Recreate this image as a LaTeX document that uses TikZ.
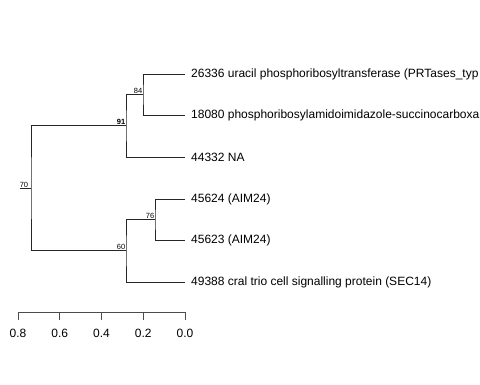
\documentclass[tikz,border=0pt]{standalone}
\usepackage{fontspec}
\setmainfont{Liberation Sans}
\begin{document}
\begin{tikzpicture}[x=1pt,y=-1pt,
  br/.style={draw=black!85,line width=0.9pt},
  leaf/.style={anchor=west,font=\fontsize{12}{14}\selectfont,inner sep=0pt},
  sup/.style={font=\fontsize{7.5}{9}\selectfont,inner sep=0.5pt},
  tick/.style={font=\fontsize{12}{14}\selectfont,inner sep=0pt}]
\useasboundingbox (0,0) rectangle (480,384);
\clip (0,0) rectangle (480,384);
% tips
\coordinate (t1) at (185,74);
\coordinate (t2) at (185,115);
\coordinate (t3) at (185,157);
\coordinate (t4) at (185,199);
\coordinate (t5) at (185,240);
\coordinate (t6) at (185,282);
% internal nodes
\coordinate (n84) at (143,94.5);
\coordinate (n91) at (126,125.75);
\coordinate (n76) at (155,219.5);
\coordinate (n60) at (126,250.75);
\coordinate (n70) at (31,188.25);
\coordinate (r0) at (20,188.25);
% labels
\node[leaf] (l1) at (191,74) {26336 uracil phosphoribosyltransferase (PRTases\_typ};
\node[leaf] (l2) at (191,115) {18080 phosphoribosylamidoimidazole-succinocarboxa};
\node[leaf] (l3) at (191,157) {44332 NA};
\node[leaf] (l4) at (191,199) {45624 (AIM24)};
\node[leaf] (l5) at (191,240) {45623 (AIM24)};
\node[leaf] (l6) at (191,282) {49388 cral trio cell signalling protein (SEC14)};
% branches
\draw[br] (t1) -| (n84) |- (t2);
\draw[br] (n84) -| (n91) |- (t3);
\draw[br] (t4) -| (n76) |- (t5);
\draw[br] (n76) -| (n60) |- (t6);
\draw[br] (n91) -| (n70) |- (n60);
\draw[br] (r0) -- (n70);
% support values
\node[sup,anchor=south east] (s84) at (n84) {84};
\node[sup,anchor=south east,font=\fontsize{7.5}{9}\selectfont\bfseries] (s91) at (n91) {91};
\node[sup,anchor=south east] (s76) at (n76) {76};
\node[sup,anchor=south east] (s60) at (n60) {60};
\node[sup,anchor=south] (s70) at (24,188) {70};
% axis
\coordinate (a8) at (18,312);
\coordinate (a0) at (185,312);
\draw[br,draw=black!70] (a8) -- (a0);
\foreach \x/\lab in {18/0.8,59.75/0.6,101.5/0.4,143.25/0.2,185/0.0}{
  \draw[br,draw=black!70] (\x,312) -- (\x,320);
  \node[tick] at (\x,333) {\lab};
}
\end{tikzpicture}
\end{document}
